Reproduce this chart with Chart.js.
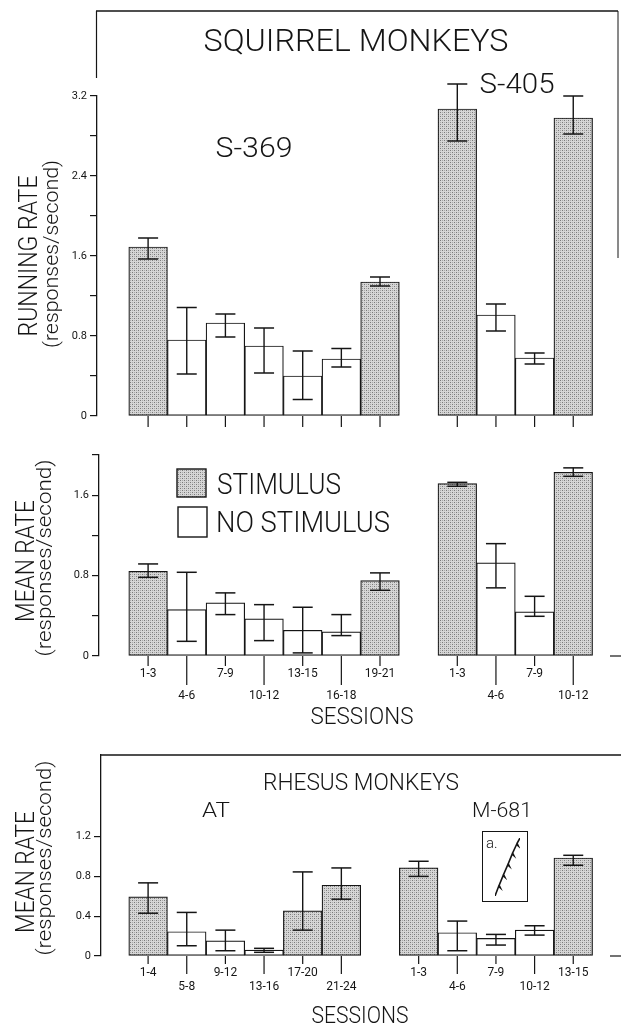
<!DOCTYPE html>
<html>
<head>
<meta charset="utf-8">
<script src="https://cdn.jsdelivr.net/npm/chart.js@4.4.1/dist/chart.umd.min.js"></script>
<style>
  html, body { margin:0; padding:0; background:#ffffff; }
  #fig { position:relative; width:621px; height:1025px; overflow:hidden; background:#fff; }
  #fig canvas { position:absolute; left:0; }
  #inset { position:absolute; box-sizing:border-box; border:1.3px solid #151515; background:#fff; }
</style>
</head>
<body>
<div id="fig">
  <canvas id="cTop" width="621" height="440" style="top:0px"></canvas>
  <canvas id="cMid" width="621" height="300" style="top:440px"></canvas>
  <canvas id="cBot" width="621" height="285" style="top:740px"></canvas>
  <div id="inset" style="left:482px;top:831px;width:46px;height:71px;">
    <canvas id="cInset" width="44" height="69" style="left:0;top:0"></canvas>
  </div>
</div>
<script>
// ---------------- DATA ----------------
// Squirrel monkeys: session blocks
const sessions369 = ['1-3','4-6','7-9','10-12','13-15','16-18','19-21'];
const sessions405 = ['1-3','4-6','7-9','10-12'];
const stimulus369 = [true,false,false,false,false,false,true];
const stimulus405 = [true,false,false,true];

// Running rate (responses/second), with error-bar low/high ends
const runRate369 = [1.69, 0.76, 0.93, 0.70, 0.40, 0.57, 1.34];
const runLow369  = [1.57, 0.42, 0.79, 0.43, 0.165, 0.49, 1.30];
const runHigh369 = [1.78, 1.085, 1.02, 0.88, 0.65, 0.675, 1.39];
const runRate405 = [3.07, 1.01, 0.58, 2.98];
const runLow405  = [2.75, 0.85, 0.52, 2.82];
const runHigh405 = [3.32, 1.12, 0.63, 3.20];

// Mean rate (responses/second)
const meanRate369 = [0.843, 0.462, 0.528, 0.369, 0.256, 0.240, 0.750];
const meanLow369  = [0.783, 0.146, 0.412, 0.153, 0.031, 0.203, 0.654];
const meanHigh369 = [0.916, 0.833, 0.628, 0.511, 0.485, 0.412, 0.827];
const meanRate405 = [1.715, 0.926, 0.439, 1.828];
const meanLow405  = [1.689, 0.678, 0.395, 1.788];
const meanHigh405 = [1.728, 1.118, 0.594, 1.872];

// Rhesus monkeys
const sessionsAT = ['1-4','5-8','9-12','13-16','17-20','21-24'];
const stimulusAT = [true,false,false,false,true,true];
const rateAT = [0.594, 0.244, 0.153, 0.060, 0.454, 0.711];
const lowAT  = [0.430, 0.103, 0.053, 0.037, 0.260, 0.571];
const highAT = [0.735, 0.438, 0.260, 0.077, 0.845, 0.885];
const sessionsM681 = ['1-3','4-6','7-9','10-12','13-15'];
const stimulusM681 = [true,false,false,false,true];
const rateM681 = [0.885, 0.234, 0.177, 0.260, 0.985];
const lowM681  = [0.800, 0.053, 0.110, 0.210, 0.912];
const highM681 = [0.952, 0.351, 0.217, 0.304, 1.012];

// Y tick values and labels
const runTickValues  = [0, 0.4, 0.8, 1.2, 1.6, 2.0, 2.4, 2.8, 3.2];
const runTickLabels  = ['0','','0.8','','1.6','','2.4','','3.2'];
const meanTickValues = [0, 0.4, 0.8, 1.2, 1.6, 2.0];
const meanTickLabels = ['0','','0.8','','1.6',''];
const rhesusTickValues = [0, 0.4, 0.8, 1.2];
const rhesusTickLabels = ['0','0.4','0.8','1.2'];

// Inset (a.) cumulative record
const insetTime  = [0, 1.5, 2.2, 1.7, 3.3, 4.0, 3.5, 5.2, 5.9, 5.4, 7.0, 7.7, 7.2, 8.8, 9.5, 9.0, 10.2];
const insetCount = [0, 4.5, 3.8, 5.0, 9.5, 8.8, 10.0, 14.5, 13.8, 15.0, 19.5, 18.8, 20.0, 24.0, 23.3, 24.5, 27];

// ---------------- STYLE HELPERS ----------------
const FONT = "Roboto, 'Liberation Sans', Arial, sans-serif";
const INK = '#151515';

function makeStipple() {
  const c = document.createElement('canvas');
  c.width = 4; c.height = 4;
  const g = c.getContext('2d');
  g.fillStyle = '#d6d6d6'; g.fillRect(0, 0, 4, 4);
  g.fillStyle = '#7a7a7a'; g.fillRect(0, 0, 1, 1); g.fillRect(2, 2, 1, 1);
  g.fillStyle = '#a9a9a9'; g.fillRect(2, 0, 1, 1); g.fillRect(0, 2, 1, 1);
  return g.createPattern(c, 'repeat');
}
const STIPPLE = makeStipple();

function line(ctx, x1, y1, x2, y2, w) {
  ctx.beginPath(); ctx.moveTo(x1, y1); ctx.lineTo(x2, y2);
  ctx.lineWidth = w || 1.2; ctx.strokeStyle = INK; ctx.stroke();
}
// text centred at (cx, cy) (cap-height centre), optionally fitted to a width, optionally rotated
function drawText(ctx, s, cx, cy, size, width, rot, weight) {
  ctx.save();
  ctx.font = (weight || 300) + ' ' + size + 'px ' + FONT;
  ctx.fillStyle = INK; ctx.textAlign = 'center'; ctx.textBaseline = 'alphabetic';
  const w = ctx.measureText(s).width;
  const sx = width ? width / w : 1;
  ctx.translate(cx, cy);
  if (rot) ctx.rotate(-Math.PI / 2);
  ctx.scale(sx, 1);
  ctx.fillText(s, 0, size * 0.355);
  ctx.restore();
}

// ---------------- PANEL BUILDER ----------------
const SLOT_PX = 38.65, FIRST_CENTER_PX = 148.1;

function buildPanel(canvasId, canvasTop, canvasH, spec) {
  const pts = [], stim = [], lo = [], hi = [], xl = [];
  spec.groups.forEach(g => {
    g.values.forEach((v, i) => {
      pts.push({ x: g.start + i, y: v });
      stim.push(g.stim[i]); lo.push(g.lo[i]); hi.push(g.hi[i]);
      xl.push({ pos: g.start + i, text: g.labels[i], row: i % 2 });
    });
  });
  const xmin = 1 - (FIRST_CENTER_PX - spec.left) / SLOT_PX;
  const xmax = 1 + (spec.right - FIRST_CENTER_PX) / SLOT_PX;
  const slotTicks = [];
  for (let s = 1; s <= 12; s++) slotTicks.push(s);

  const decor = {
    id: 'decor_' + canvasId,
    afterDatasetsDraw(chart) {
      const ctx = chart.ctx, xs = chart.scales.x, ys = chart.scales.y;
      ctx.save();
      pts.forEach((p, i) => {
        const x = xs.getPixelForValue(p.x);
        const yl = ys.getPixelForValue(lo[i]), yh = ys.getPixelForValue(hi[i]);
        line(ctx, x, yl, x, yh, 1.4);
        line(ctx, x - 10, yl, x + 10, yl, 1.5);
        line(ctx, x - 10, yh, x + 10, yh, 1.5);
      });
      ctx.restore();
    },
    afterDraw(chart) {
      const ctx = chart.ctx, xs = chart.scales.x, ys = chart.scales.y;
      const y0 = ys.getPixelForValue(0);
      ctx.save();
      xl.forEach(l => {
        const x = xs.getPixelForValue(l.pos);
        const len = l.row ? spec.tickLong : spec.tickShort;
        line(ctx, x, y0, x, y0 + len, 1.2);
        if (spec.showLabels) {
          ctx.font = '12px ' + FONT;
          ctx.fillStyle = INK; ctx.textAlign = 'center'; ctx.textBaseline = 'middle';
          ctx.fillText(l.text, x, y0 + (l.row ? spec.row2 : spec.row1));
        }
      });
      ctx.translate(0, -canvasTop);
      spec.extra(ctx);
      ctx.restore();
    }
  };

  return new Chart(document.getElementById(canvasId), {
    type: 'bar',
    data: {
      datasets: [{
        data: pts,
        backgroundColor: c => stim[c.dataIndex] ? STIPPLE : '#ffffff',
        borderColor: INK,
        borderWidth: 1.2,
        borderSkipped: false,
        barPercentage: 1,
        categoryPercentage: 1
      }]
    },
    options: {
      responsive: false, animation: false, devicePixelRatio: 1, events: [],
      layout: { padding: {
        left: 0, right: 621 - spec.right,
        top: spec.chartTop - canvasTop,
        bottom: canvasTop + canvasH - spec.chartBottom } },
      plugins: { legend: { display: false }, tooltip: { enabled: false } },
      scales: {
        x: {
          type: 'linear', display: false, offset: false, min: xmin, max: xmax,
          afterBuildTicks: s => { s.ticks = slotTicks.map(v => ({ value: v })); }
        },
        y: {
          min: 0, max: spec.ymax,
          afterBuildTicks: s => { s.ticks = spec.tickValues.map(v => ({ value: v })); },
          afterFit: s => { s.width = spec.left; },
          ticks: {
            autoSkip: false, padding: 3, color: INK,
            font: { family: FONT, size: 11 },
            callback: (v, i) => spec.tickLabels[i]
          },
          grid: { drawOnChartArea: false, drawTicks: true, tickLength: 7, color: INK, lineWidth: 1.2 },
          border: { display: true, color: INK, width: 1.3 }
        }
      }
    },
    plugins: [decor]
  });
}

// ---------------- TOP PANEL: running rate ----------------
buildPanel('cTop', 0, 440, {
  left: 97, right: 618, chartTop: 96, chartBottom: 416, ymax: 3.2,
  tickValues: runTickValues, tickLabels: runTickLabels,
  tickShort: 11, tickLong: 11, showLabels: false,
  groups: [
    { start: 1, labels: sessions369, values: runRate369, lo: runLow369, hi: runHigh369, stim: stimulus369 },
    { start: 9, labels: sessions405, values: runRate405, lo: runLow405, hi: runHigh405, stim: stimulus405 }
  ],
  extra(ctx) {
    line(ctx, 96, 11, 618, 11, 1.3);
    line(ctx, 96.5, 11, 96.5, 78, 1.2);
    line(ctx, 618, 11, 618, 258, 1.0);
    drawText(ctx, 'SQUIRREL MONKEYS', 356, 40, 32, 305);
    drawText(ctx, 'S-369', 254, 147, 28, 77);
    drawText(ctx, 'S-405', 517, 83, 28, 75);
    drawText(ctx, 'RUNNING RATE', 28, 256, 25, 161, true);
    drawText(ctx, '(responses/second)', 51, 254, 20, 188, true);
  }
});

// ---------------- MIDDLE PANEL: mean rate ----------------
buildPanel('cMid', 440, 300, {
  left: 99, right: 618, chartTop: 455, chartBottom: 656, ymax: 2.0,
  tickValues: meanTickValues, tickLabels: meanTickLabels,
  tickShort: 10, tickLong: 29, row1: 18, row2: 40, showLabels: true,
  groups: [
    { start: 1, labels: sessions369, values: meanRate369, lo: meanLow369, hi: meanHigh369, stim: stimulus369 },
    { start: 9, labels: sessions405, values: meanRate405, lo: meanLow405, hi: meanHigh405, stim: stimulus405 }
  ],
  extra(ctx) {
    drawText(ctx, 'MEAN RATE', 25, 561, 25, 122, true);
    drawText(ctx, '(responses/second)', 44, 558, 20, 197, true);
    // legend
    ctx.fillStyle = STIPPLE; ctx.fillRect(177, 469, 29, 28);
    ctx.lineWidth = 1.4; ctx.strokeStyle = INK; ctx.strokeRect(177, 469, 29, 28);
    ctx.fillStyle = '#fff'; ctx.fillRect(178, 507, 29, 30);
    ctx.strokeRect(178, 507, 29, 30);
    ctx.save();
    ctx.font = '300 29px ' + FONT; ctx.fillStyle = INK; ctx.textAlign = 'left'; ctx.textBaseline = 'alphabetic';
    let w = ctx.measureText('STIMULUS').width;
    ctx.translate(217, 484 + 29 * 0.355); ctx.scale(124 / w, 1); ctx.fillText('STIMULUS', 0, 0);
    ctx.restore();
    ctx.save();
    ctx.font = '300 29px ' + FONT; ctx.fillStyle = INK; ctx.textAlign = 'left'; ctx.textBaseline = 'alphabetic';
    w = ctx.measureText('NO STIMULUS').width;
    ctx.translate(216, 522 + 29 * 0.355); ctx.scale(174 / w, 1); ctx.fillText('NO STIMULUS', 0, 0);
    ctx.restore();
    drawText(ctx, 'SESSIONS', 362, 716, 23, 103);
    line(ctx, 610, 656, 621, 656, 1.2);
  }
});

// ---------------- BOTTOM PANEL: rhesus monkeys ----------------
buildPanel('cBot', 740, 285, {
  left: 101, right: 621, chartTop: 755, chartBottom: 956, ymax: 2.02,
  tickValues: rhesusTickValues, tickLabels: rhesusTickLabels,
  tickShort: 8, tickLong: 18, row1: 17, row2: 31, showLabels: true,
  groups: [
    { start: 1, labels: sessionsAT, values: rateAT, lo: lowAT, hi: highAT, stim: stimulusAT },
    { start: 8, labels: sessionsM681, values: rateM681, lo: lowM681, hi: highM681, stim: stimulusM681 }
  ],
  extra(ctx) {
    line(ctx, 101, 755, 621, 755, 1.3);
    drawText(ctx, 'RHESUS MONKEYS', 361, 782, 23, 196);
    drawText(ctx, 'AT', 216, 810, 21, 28);
    drawText(ctx, 'M-681', 502, 810, 21, 60);
    drawText(ctx, 'MEAN RATE', 25, 872, 25, 122, true);
    drawText(ctx, '(responses/second)', 44, 858, 20, 195, true);
    drawText(ctx, 'SESSIONS', 360, 1015, 23, 97);
    line(ctx, 610, 956, 621, 956, 1.2);
  }
});

// ---------------- INSET a. ----------------
new Chart(document.getElementById('cInset'), {
  type: 'scatter',
  data: { datasets: [{
    data: insetTime.map((t, i) => ({ x: t, y: insetCount[i] })),
    showLine: true, borderColor: INK, borderWidth: 1.6, pointRadius: 0, tension: 0
  }] },
  options: {
    responsive: false, animation: false, devicePixelRatio: 1, events: [],
    layout: { padding: { left: 12, right: 7, top: 6, bottom: 5 } },
    plugins: { legend: { display: false }, tooltip: { enabled: false } },
    scales: { x: { display: false, min: 0, max: 10.2 }, y: { display: false, min: 0, max: 27 } }
  },
  plugins: [{
    id: 'insetLabel',
    afterDraw(c) {
      const ctx = c.ctx; ctx.save();
      ctx.font = '300 15px ' + FONT; ctx.fillStyle = INK; ctx.textAlign = 'left';
      ctx.fillText('a.', 3, 16); ctx.restore();
    }
  }]
});
</script>
</body>
</html>
